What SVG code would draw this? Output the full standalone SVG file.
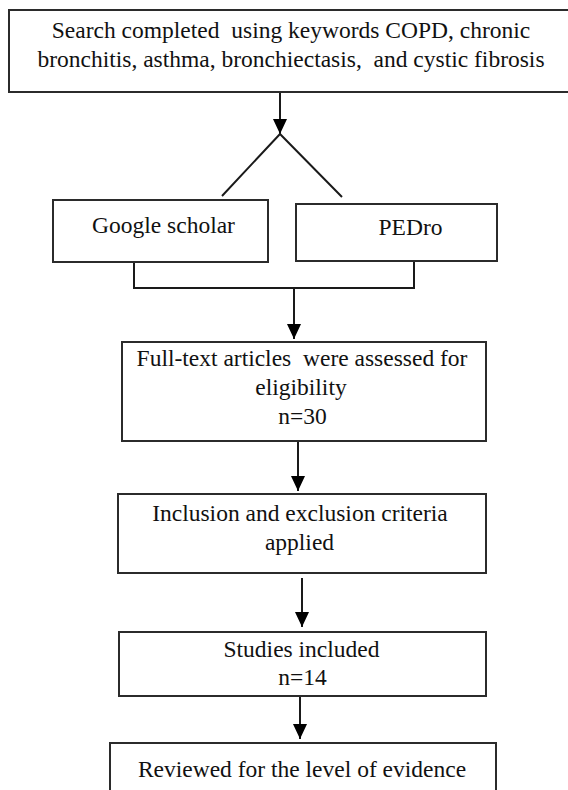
<svg xmlns="http://www.w3.org/2000/svg" width="568" height="790" viewBox="0 0 568 790">
<style>
.box{fill:#fff;stroke:#2b2b2b;stroke-width:2}
text{font-family:'Liberation Serif',Tinos,'Times New Roman',Times,'DejaVu Serif',serif;font-size:23.5px;fill:#111;text-anchor:middle}
.ln{fill:none;stroke:#1a1a1a;stroke-width:2}
</style>
<defs>
<marker id="ah" markerUnits="userSpaceOnUse" markerWidth="15" markerHeight="14" viewBox="0 0 15 14" refX="15" refY="7" orient="auto">
<path d="M0,0 L15,7 L0,14 z" fill="#000"/>
</marker>
</defs>
<rect width="568" height="790" fill="#fff"/>
<g id="connectors">
<line class="ln" x1="280" y1="92" x2="280" y2="134" marker-end="url(#ah)"/>
<path class="ln" d="M222,196 L280,134 L342,197" stroke="#333"/>
<path class="ln" d="M134,262 V288 H414 V261"/>
<line class="ln" x1="294" y1="288" x2="294" y2="339" marker-end="url(#ah)"/>
<line class="ln" x1="298" y1="441" x2="298" y2="491" marker-end="url(#ah)"/>
<line class="ln" x1="302" y1="578" x2="302" y2="627" marker-end="url(#ah)"/>
<line class="ln" x1="300" y1="696" x2="300" y2="739" marker-end="url(#ah)"/>
</g>
<g id="search">
<rect class="box" x="9" y="10" width="563" height="82"/>
<text x="291" y="38" xml:space="preserve">Search completed  using keywords COPD, chronic</text>
<text x="291" y="67" xml:space="preserve">bronchitis, asthma, bronchiectasis,  and cystic fibrosis</text>
</g>
<g id="google">
<rect class="box" x="53" y="200" width="215" height="62"/>
<text x="163.5" y="233">Google scholar</text>
</g>
<g id="pedro">
<rect class="box" x="296" y="204" width="201" height="57"/>
<text x="410.5" y="235">PEDro</text>
</g>
<g id="fulltext">
<rect class="box" x="122" y="342" width="364" height="99"/>
<text x="302" y="366" xml:space="preserve">Full-text articles  were assessed for</text>
<text x="301" y="395">eligibility</text>
<text x="302.5" y="424">n=30</text>
</g>
<g id="inclusion">
<rect class="box" x="118" y="494" width="368" height="79"/>
<text x="300" y="521">Inclusion and exclusion criteria</text>
<text x="299.5" y="550">applied</text>
</g>
<g id="studies">
<rect class="box" x="119" y="632" width="367" height="64"/>
<text x="301.5" y="657">Studies included</text>
<text x="302.5" y="685">n=14</text>
</g>
<g id="reviewed">
<rect class="box" x="110" y="743" width="386" height="60"/>
<text x="302" y="777">Reviewed for the level of evidence</text>
</g>
</svg>
